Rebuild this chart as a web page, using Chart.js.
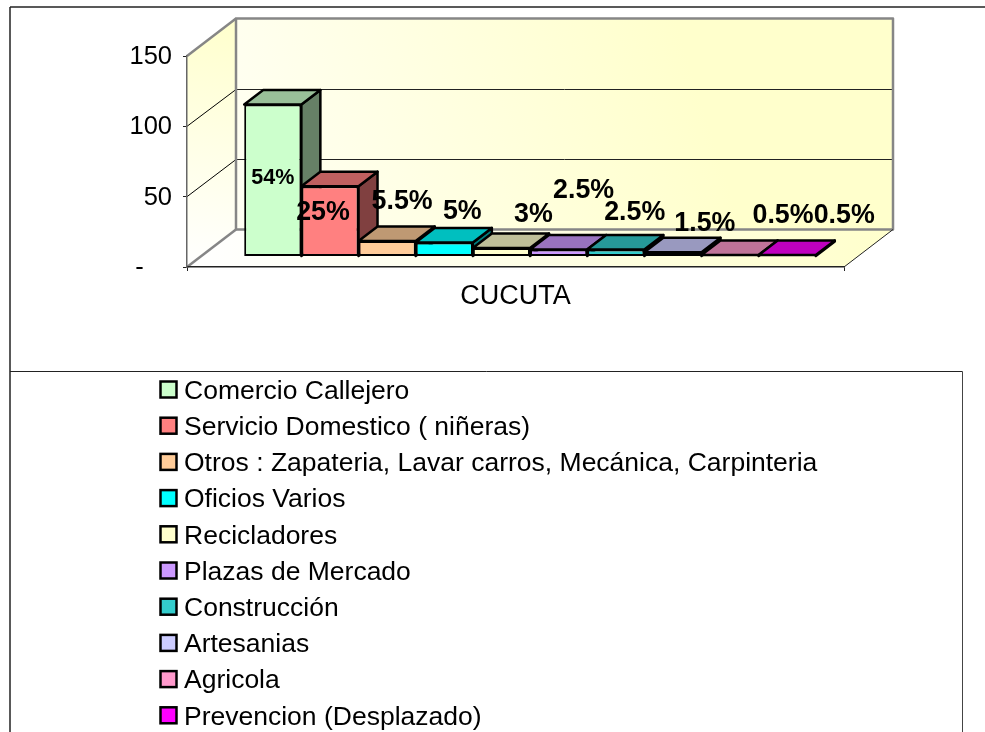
<!DOCTYPE html>
<html>
<head>
<meta charset="utf-8">
<title>CUCUTA</title>
<script src="https://cdn.jsdelivr.net/npm/chart.js@4"></script>
<style>
  html, body { margin: 0; padding: 0; background: #fff; overflow: hidden; }
  #wrap { width: 985px; height: 732px; }
</style>
</head>
<body>
<div id="wrap"><canvas id="chart"></canvas></div>
<script>
const categories = ['CUCUTA'];
const seriesNames = ['Comercio Callejero', 'Servicio Domestico ( niñeras)', 'Otros : Zapateria, Lavar carros, Mecánica, Carpinteria', 'Oficios Varios', 'Recicladores', 'Plazas de Mercado', 'Construcción', 'Artesanias', 'Agricola', 'Prevencion (Desplazado)'];
const seriesValues = [108, 50, 11, 10, 6, 5, 5, 3, 1, 1];
const percentLabels = ['54%', '25%', '5.5%', '5%', '3%', '2.5%', '2.5%', '1.5%', '0.5%', '0.5%'];
const yTickLabels = ['-    ', '50', '100', '150'];

const seriesColors = ['#CCFFCC', '#FF8080', '#FFCC99', '#00FFFF', '#FFFFCC', '#CC99FF', '#33CCCC', '#CCCCFF', '#FF99CC', '#FF00FF'];
// where each percent label sits, relative to the top of its bar
const labelNudge = [[0, 73.5], [-7, 26], [15, -39], [18, -31], [32, -33], [25, -59], [19, -37], [32, -29], [53, -39], [57, -39]];

const font = 'Liberation Sans, Arial, sans-serif';
const wallDepth = { x: 49, y: -37.5 };   // front plane to back wall
const barFront = { x: 14.5, y: -10.5 };  // front plane to front of the bars
const barDepth = { x: 19, y: -14.5 };    // thickness of the bars

function shade(hex, k) {
    const n = parseInt(hex.slice(1), 16);
    return 'rgb(' + [n >> 16, (n >> 8) & 255, n & 255].map(c => Math.round(c * k)).join(',') + ')';
}

function poly(ctx, pts, fill, stroke, width) {
    ctx.beginPath();
    pts.forEach((p, i) => i ? ctx.lineTo(p[0], p[1]) : ctx.moveTo(p[0], p[1]));
    ctx.closePath();
    if (fill) { ctx.fillStyle = fill; ctx.fill(); }
    if (stroke) { ctx.strokeStyle = stroke; ctx.lineWidth = width; ctx.lineJoin = 'round'; ctx.stroke(); }
}

function line(ctx, x1, y1, x2, y2, color, width) {
    ctx.beginPath();
    ctx.moveTo(x1, y1);
    ctx.lineTo(x2, y2);
    ctx.strokeStyle = color;
    ctx.lineWidth = width;
    ctx.stroke();
}

// walls, floor and the frames around the chart and the legend
const walls = {
    id: 'walls',
    beforeDraw(chart) {
        const ctx = chart.ctx;
        const a = chart.chartArea;
        const dx = wallDepth.x, dy = wallDepth.y;
        ctx.save();

        const back = ctx.createLinearGradient(a.left + dx, a.bottom + dy, a.right + dx, a.top + dy);
        back.addColorStop(0, '#FFFFF4');
        back.addColorStop(0.7, '#FFFFCC');
        poly(ctx, [[a.left + dx, a.top + dy], [a.right + dx, a.top + dy], [a.right + dx, a.bottom + dy], [a.left + dx, a.bottom + dy]], back);

        const side = ctx.createLinearGradient(a.left, a.bottom, a.left + dx, a.top + dy);
        side.addColorStop(0, '#FFFFFF');
        side.addColorStop(1, '#FFFFCC');
        poly(ctx, [[a.left, a.top], [a.left + dx, a.top + dy], [a.left + dx, a.bottom + dy], [a.left, a.bottom]], side);

        const floor = ctx.createLinearGradient(a.left, a.bottom, a.right + dx, a.bottom + dy);
        floor.addColorStop(0, '#FFFFFF');
        floor.addColorStop(1, '#FFFFCC');
        poly(ctx, [[a.left, a.bottom], [a.left + dx, a.bottom + dy], [a.right + dx, a.bottom + dy], [a.right, a.bottom]], floor);

        // grid on the back and side walls
        const yScale = chart.scales.y;
        yScale.ticks.forEach(t => {
            if (t.value === yScale.min || t.value === yScale.max) return;
            const y = yScale.getPixelForValue(t.value);
            const yBack = Math.round(y + dy) + 0.5;
            line(ctx, a.left, y, a.left + dx, yBack, '#000', 1);
            line(ctx, a.left + dx, yBack, a.right + dx, yBack, '#222', 1);
        });

        // grey wall edges
        ctx.lineJoin = 'miter';
        poly(ctx, [[a.left + dx, a.top + dy], [a.right + dx, a.top + dy], [a.right + dx, a.bottom + dy], [a.left + dx, a.bottom + dy]], null, '#868686', 2.5);
        line(ctx, a.left, a.top, a.left + dx, a.top + dy, '#868686', 2.5);
        line(ctx, a.left, a.bottom, a.left + dx, a.bottom + dy, '#868686', 2.5);
        line(ctx, a.right, a.bottom, a.right + dx, a.bottom + dy, '#222', 1);

        // frames
        line(ctx, 10, 7, 985, 7, '#222', 1.5);
        line(ctx, 10, 7, 10, 732, '#222', 1.5);
        line(ctx, 10, 371.5, 962.5, 371.5, '#222', 1);
        line(ctx, 962.5, 371.5, 962.5, 732, '#444', 1);
        ctx.restore();
    }
};

// draws the bars left to right, each pushed back from the front plane with a top and a side,
// then the percent labels. Returning false skips Chart.js' own right-to-left pass.
const bars3d = {
    id: 'bars3d',
    beforeDatasetsDraw(chart) {
        const ctx = chart.ctx;
        const dx = barDepth.x, dy = barDepth.y;
        ctx.save();
        ctx.translate(barFront.x, barFront.y);
        seriesNames.forEach((name, i) => {
            const bar = chart.getDatasetMeta(i).data[0];
            const left = bar.x - bar.width / 2, right = bar.x + bar.width / 2;
            poly(ctx, [[right, bar.y], [right + dx, bar.y + dy], [right + dx, bar.base + dy], [right, bar.base]], shade(seriesColors[i], 0.5), '#000', 2.5);
            poly(ctx, [[left, bar.y], [left + dx, bar.y + dy], [right + dx, bar.y + dy], [right, bar.y]], shade(seriesColors[i], 0.75), '#000', 2.5);
            bar.draw(ctx);
        });
        ctx.restore();

        ctx.save();
        ctx.fillStyle = '#000';
        ctx.textAlign = 'center';
        ctx.textBaseline = 'middle';
        percentLabels.forEach((text, i) => {
            const bar = chart.getDatasetMeta(i).data[0];
            ctx.font = 'bold ' + (i === 0 ? 21.5 : 26.8) + 'px ' + font;
            ctx.fillText(text, bar.x + barFront.x + labelNudge[i][0], bar.y + barFront.y + labelNudge[i][1]);
        });
        ctx.restore();
        return false;
    }
};

// legend in one column, cut off by the bottom of the page like the original
const columnLegend = {
    id: 'columnLegend',
    afterDraw(chart) {
        const ctx = chart.ctx;
        ctx.save();
        ctx.font = '26.5px ' + font;
        ctx.textBaseline = 'middle';
        ctx.textAlign = 'left';
        seriesNames.forEach((name, i) => {
            const y = 390 + i * 36.2;
            ctx.fillStyle = seriesColors[i];
            ctx.fillRect(160.5, y - 8.5, 16, 16);
            ctx.strokeStyle = '#000';
            ctx.lineWidth = 2.5;
            ctx.strokeRect(160.5, y - 8.5, 16, 16);
            ctx.fillStyle = '#000';
            ctx.fillText(name, 184, y + 1.5);
        });
        ctx.restore();
    }
};

new Chart(document.getElementById('chart'), {
    type: 'bar',
    data: {
        labels: categories,
        datasets: seriesNames.map((name, i) => ({
            label: name,
            data: [seriesValues[i]],
            backgroundColor: seriesColors[i],
            borderColor: '#000',
            borderWidth: 2,
            borderSkipped: false,
            inflateAmount: 0
        }))
    },
    options: {
        responsive: true,
        maintainAspectRatio: false,
        animation: false,
        layout: { padding: { left: 0, top: 56, right: 141, bottom: 425 } },
        plugins: {
            legend: { display: false },
            tooltip: { enabled: false }
        },
        datasets: { bar: { categoryPercentage: 0.87, barPercentage: 1 } },
        scales: {
            x: {
                afterFit: s => { s.height = 40; },
                grid: { drawOnChartArea: false, tickLength: 4, color: '#222' },
                border: { color: '#222', width: 1.5 },
                ticks: { color: '#000', font: { family: font, size: 27 }, padding: 9 }
            },
            y: {
                min: 0,
                max: 150,
                afterFit: s => { s.width = 187; },
                grid: { drawOnChartArea: false, tickLength: 4, color: '#222' },
                border: { color: '#666', width: 1.5 },
                ticks: {
                    stepSize: 50,
                    color: '#000',
                    font: { family: font, size: 25.5 },
                    padding: 11,
                    labelOffset: 1,
                    callback: (value, index) => yTickLabels[index]
                }
            }
        }
    },
    plugins: [walls, bars3d, columnLegend]
});
</script>
</body>
</html>
